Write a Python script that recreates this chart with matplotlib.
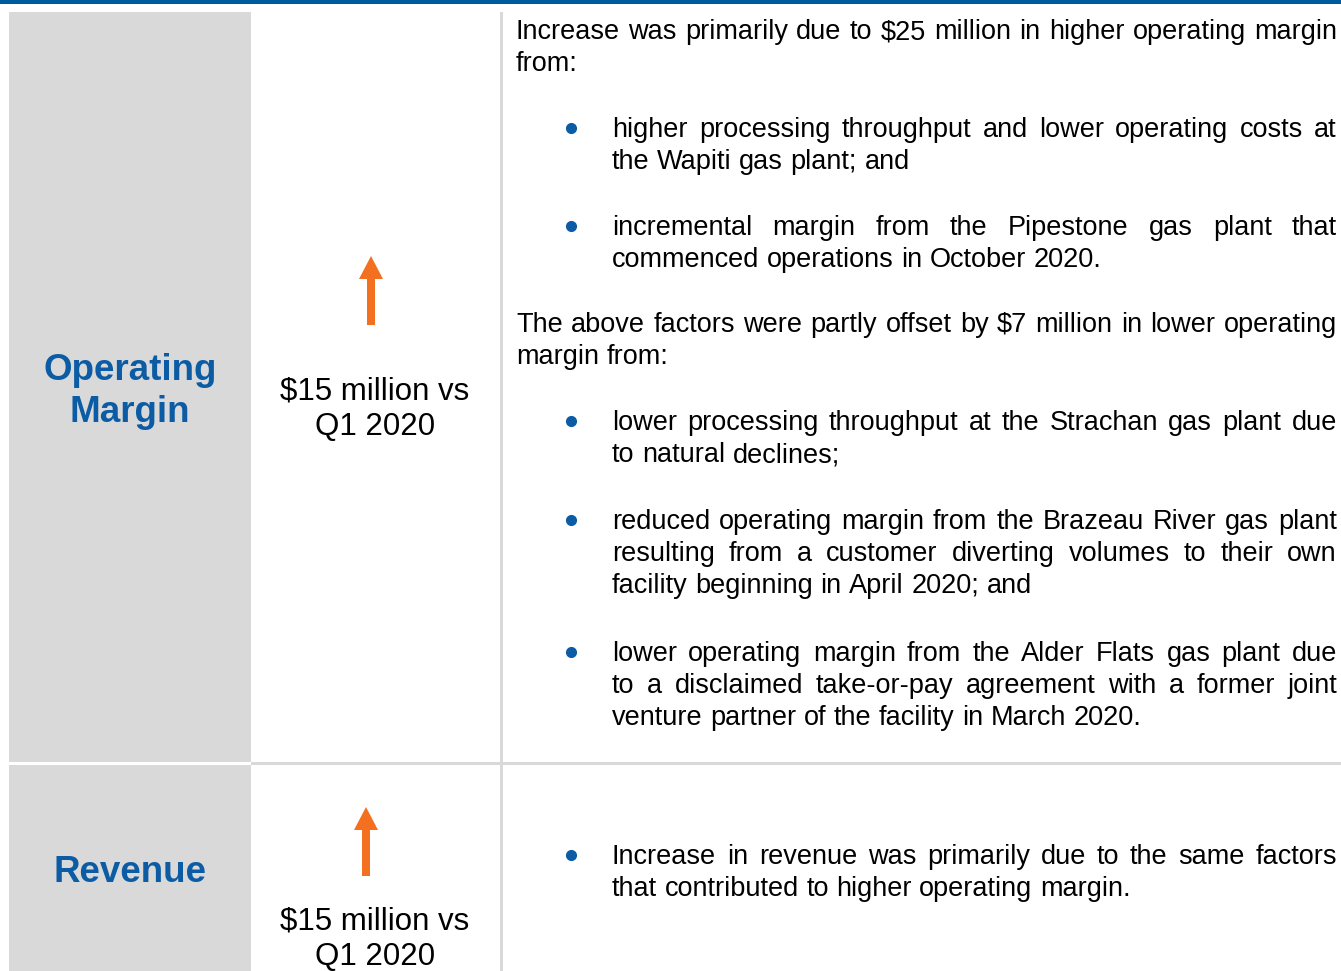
import matplotlib
matplotlib.use("Agg")
import matplotlib.pyplot as plt
from matplotlib.patches import Rectangle, Polygon
from matplotlib import font_manager as fm

# ---- content ----
row_titles = [["Operating", "Margin"], ["Revenue"]]
row_changes = [["$15 million vs", "Q1 2020"], ["$15 million vs", "Q1 2020"]]

# right-column content: (kind, lines) ; kind 'p' = paragraph, 'b' = bullet
om_blocks = [
    ("p", ["Increase was primarily due to $25 million in higher operating margin", "from:"]),
    ("b", ["higher processing throughput and lower operating costs at", "the Wapiti gas plant; and"]),
    ("b", ["incremental margin from the Pipestone gas plant that", "commenced operations in October 2020."]),
    ("p", ["The above factors were partly offset by $7 million in lower operating", "margin from:"]),
    ("b", ["lower processing throughput at the Strachan gas plant due", "to natural declines;"]),
    ("b", ["reduced operating margin from the Brazeau River gas plant",
           "resulting from a customer diverting volumes to their own",
           "facility beginning in April 2020; and"]),
    ("b", ["lower operating margin from the Alder Flats gas plant due",
           "to a disclaimed take-or-pay agreement with a former joint",
           "venture partner of the facility in March 2020."]),
]
om_block_baselines = [39, 137, 235, 332, 430, 529, 661]
rev_blocks = [
    ("b", ["Increase in revenue was primarily due to the same factors",
           "that contributed to higher operating margin."]),
]
rev_block_baselines = [864]

BLUE = "#0b5ca4"
HEADER = "#005a9e"
ORANGE = "#f37021"
GRAY = "#d9d9d9"

main_font = "Liberation Sans"
avail = {f.name for f in fm.fontManager.ttflist}
narrow_font = "Liberation Sans Narrow" if "Liberation Sans Narrow" in avail else None

W, H = 1341, 971
fig = plt.figure(figsize=(W / 100, H / 100), dpi=100)
ax = fig.add_axes([0, 0, 1, 1])
ax.set_xlim(0, W)
ax.set_ylim(H, 0)
ax.axis("off")

# header bar
ax.add_patch(Rectangle((0, 0), W, 4, color=HEADER, lw=0))
# gray title column
ax.add_patch(Rectangle((9, 12), 242, 750, color=GRAY, lw=0))
ax.add_patch(Rectangle((9, 765), 242, 206, color=GRAY, lw=0))
# separators
ax.add_patch(Rectangle((500, 12), 3, H - 12, color=GRAY, lw=0))
ax.add_patch(Rectangle((251, 762), W - 251, 3, color=GRAY, lw=0))

TFS = 26.5
ax.text(130, 380, row_titles[0][0], ha="center", va="baseline", fontsize=TFS,
        fontweight="bold", color=BLUE, family=main_font)
ax.text(130, 422, row_titles[0][1], ha="center", va="baseline", fontsize=TFS,
        fontweight="bold", color=BLUE, family=main_font)
ax.text(130, 882, row_titles[1][0], ha="center", va="baseline", fontsize=TFS,
        fontweight="bold", color=BLUE, family=main_font)

CFS = 22.5
for (l1, l2), (xc, b1, b2) in zip(row_changes, [(375, 399, 435), (375, 929, 965)]):
    ax.text(xc, b1, l1, ha="center", va="baseline", fontsize=CFS, color="black", family=main_font)
    ax.text(xc, b2, l2, ha="center", va="baseline", fontsize=CFS, color="black", family=main_font)

def up_arrow(xc, tip, base, bottom, shaft_w=8, head_w=24):
    pts = [(xc - shaft_w / 2, bottom), (xc - shaft_w / 2, base), (xc - head_w / 2, base),
           (xc, tip), (xc + head_w / 2, base), (xc + shaft_w / 2, base), (xc + shaft_w / 2, bottom)]
    ax.add_patch(Polygon(pts, closed=True, color=ORANGE, lw=0))

up_arrow(371, 256, 279, 325)
up_arrow(366, 807, 830, 876)

fig.canvas.draw()
renderer = fig.canvas.get_renderer()
FS = 19.5

def text_width(s, fam, fs):
    t = ax.text(0, 0, s, fontsize=fs, family=fam)
    w = t.get_window_extent(renderer).width
    t.remove()
    return w

def line_draw(s, x0, x1, y, justify):
    fam, fs = main_font, FS
    words = s.split(" ")
    space = text_width("a a", fam, fs) - text_width("aa", fam, fs)
    widths = [text_width(w, fam, fs) for w in words]
    if justify:
        # if too wide for the column, shrink slightly
        while sum(widths) + 0.6 * space * (len(words) - 1) > (x1 - x0) and fs > 12:
            fs -= 0.25
            widths = [text_width(w, fam, fs) for w in words]
        gap = (x1 - x0 - sum(widths)) / (len(words) - 1)
    else:
        gap = space
    x = x0
    for w, wd in zip(words, widths):
        ax.text(x, y, w, ha="left", va="baseline", fontsize=fs, family=fam, color="black")
        x += wd + gap

LINE = 32
def draw_blocks(blocks, baselines):
    for (kind, lines), b in zip(blocks, baselines):
        if kind == "p":
            x0 = 516
        else:
            x0 = 612
            ax.plot([571], [b - 9], marker="o", ms=7, color=BLUE, mec=BLUE)
        for i, ln in enumerate(lines):
            line_draw(ln, x0, 1337, b + i * LINE, i < len(lines) - 1)

draw_blocks(om_blocks, om_block_baselines)
draw_blocks(rev_blocks, rev_block_baselines)

fig.savefig("out.png", dpi=100)
